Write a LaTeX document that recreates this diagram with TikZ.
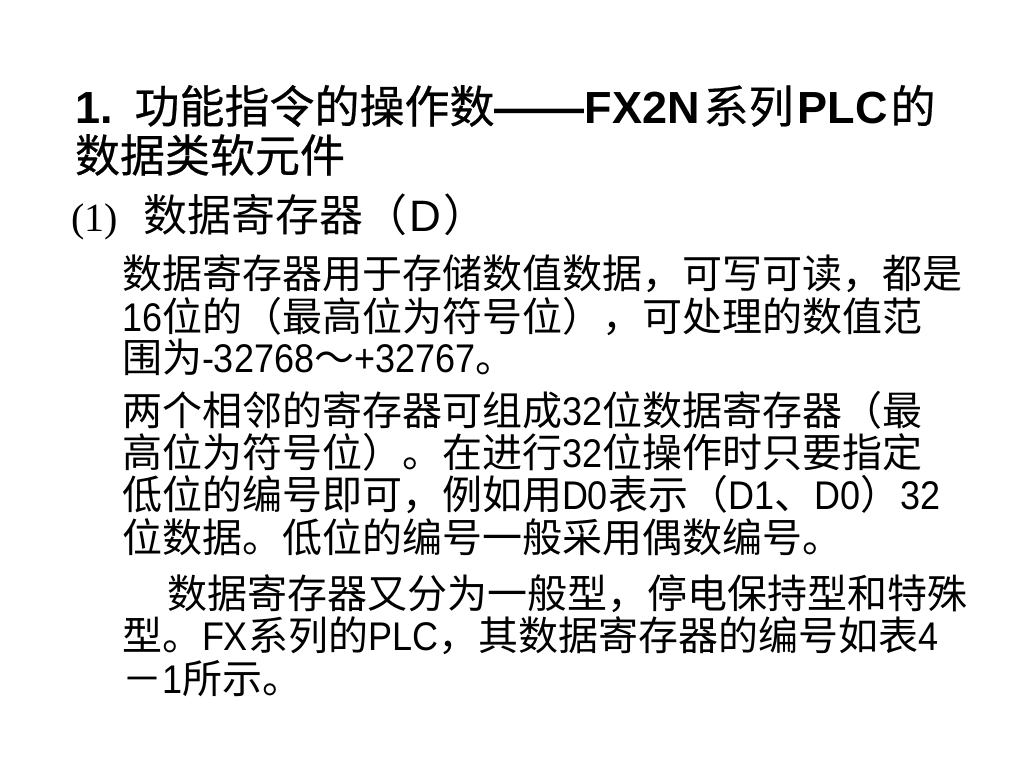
\documentclass[tikz,border=0pt]{standalone}
\usepackage{fontspec}
\setmainfont{Liberation Sans}
\newfontfamily\cjk{Noto Sans CJK SC}
\newfontfamily\cjkt[FakeBold=0.5]{Noto Sans CJK SC}
\newfontfamily\latn[FakeStretch=0.9]{Liberation Sans}
\newfontfamily\serifn{Liberation Serif}
\newcommand\C[1]{{\cjk #1}}
\newcommand\T[1]{{\cjkt #1}}
\newcommand\N[1]{{\latn #1}}
\tikzset{
  line/.style={anchor=base west, inner sep=0pt, outer sep=0pt, text=black},
  titlefont/.style={font=\fontsize{45}{50}\selectfont},
  headfont/.style={font=\fontsize{44}{50}\selectfont},
  bodyfont/.style={font=\fontsize{40}{46}\selectfont},
}
\begin{document}
\begin{tikzpicture}[x=1pt,y=-1pt]
\useasboundingbox[fill=white] (0,0) rectangle (1024,768);
% title
\node[line,titlefont] (t1) at (75,123) {\textbf{1.}\hspace{22pt}\T{功能指令的操作数}\textbf{——FX2N}\hspace{4pt}\T{系列}\hspace{4pt}\textbf{PLC}\hspace{3pt}\T{的}};
\node[line,titlefont] (t2) at (75,172) {\T{数据类软元件}};
% subheading
\node[line,headfont] (h1) at (71,231) {{\serifn\fontsize{40}{46}\selectfont(1)}\hspace{26pt}\C{数据寄存器（}\hspace{2pt}D\hspace{2pt}\C{）}};
% paragraph 1
\node[line,bodyfont] (p1) at (122,288) {\C{数据寄存器用于存储数值数据，可写可读，都是}};
\node[line,bodyfont] (p2) at (122,331) {\N{16}\C{位的（最高位为符号位），可处理的数值范}};
\node[line,bodyfont] (p3) at (122,372) {\C{围为}\N{-32768}\C{～}\N{+32767}\C{。}};
% paragraph 2
\node[line,bodyfont] (q1) at (122,425) {\C{两个相邻的寄存器可组成}\N{32}\C{位数据寄存器（最}};
\node[line,bodyfont] (q2) at (122,467) {\C{高位为符号位）。在进行}\N{32}\C{位操作时只要指定}};
\node[line,bodyfont] (q3) at (122,509) {\C{低位的编号即可，例如用}\N{D0}\C{表示（}\N{D1}\C{、}\N{D0}\C{）}\N{32}};
\node[line,bodyfont] (q4) at (122,552) {\C{位数据。低位的编号一般采用偶数编号。}};
% paragraph 3
\node[line,bodyfont] (r1) at (167,608) {\C{数据寄存器又分为一般型，停电保持型和特殊}};
\node[line,bodyfont] (r2) at (122,650) {\C{型。}\N{FX}\C{系列的}\N{PLC}\C{，其数据寄存器的编号如表}\N{4}};
\node[line,bodyfont] (r3) at (122,693) {\C{－}\N{1}\C{所示。}};
\end{tikzpicture}
\end{document}
